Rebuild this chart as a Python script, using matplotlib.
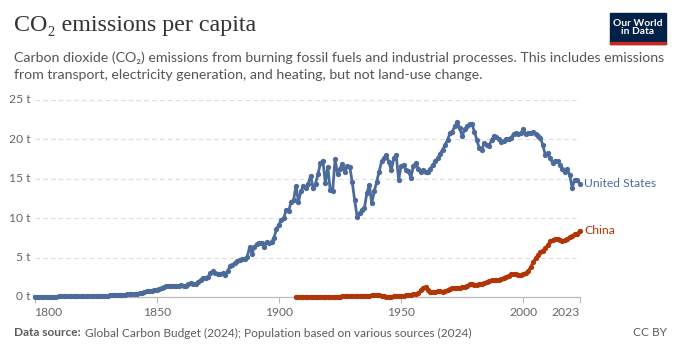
import matplotlib
matplotlib.use("Agg")
import matplotlib.pyplot as plt
from matplotlib.patches import Rectangle

plt.rcParams['font.family'] = ['Lato', 'DejaVu Sans']

us_years = list(range(1800, 2024))
us_values = [
    # 1800-1849
    0.04, 0.04, 0.05, 0.05, 0.05, 0.05, 0.06, 0.06, 0.06, 0.06,
    0.07, 0.07, 0.07, 0.07, 0.07, 0.07, 0.08, 0.08, 0.08, 0.08,
    0.08, 0.09, 0.10, 0.10, 0.11, 0.12, 0.13, 0.14, 0.15, 0.16,
    0.18, 0.20, 0.22, 0.24, 0.25, 0.28, 0.30, 0.31, 0.32, 0.33,
    0.35, 0.38, 0.42, 0.48, 0.55, 0.62, 0.70, 0.78, 0.82, 0.88,
    # 1850-1899
    0.95, 1.05, 1.15, 1.25, 1.38, 1.45, 1.45, 1.42, 1.40, 1.45,
    1.50, 1.42, 1.38, 1.60, 1.72, 1.68, 1.62, 1.95, 2.15, 2.35,
    2.45, 2.55, 3.05, 3.25, 3.00, 2.95, 2.90, 3.00, 2.85, 3.30,
    3.90, 4.05, 4.30, 4.55, 4.75, 4.80, 4.85, 5.10, 6.30, 5.50,
    6.40, 6.70, 6.90, 6.90, 6.30, 7.00, 6.80, 7.00, 7.50, 8.60,
    # 1900-1949
    9.2, 9.8, 10.0, 11.1, 10.9, 12.1, 12.3, 14.1, 12.1, 13.4,
    14.1, 13.8, 14.4, 15.4, 13.8, 14.4, 15.6, 17.0, 17.3, 14.5,
    16.5, 13.6, 13.5, 17.5, 15.6, 16.3, 16.9, 15.9, 16.6, 16.5,
    14.6, 12.3, 10.2, 10.6, 11.1, 11.3, 13.2, 14.2, 11.9, 13.4,
    14.6, 15.9, 17.2, 17.6, 18.0, 17.1, 16.1, 17.6, 18.0, 14.9,
    # 1950-1999
    16.6, 16.8, 16.1, 16.0, 15.1, 16.6, 17.0, 16.3, 15.9, 16.1,
    15.8, 15.9, 16.3, 16.8, 17.2, 17.6, 18.2, 18.7, 19.3, 19.9,
    20.8, 21.0, 21.7, 22.2, 21.4, 20.4, 21.3, 21.7, 22.0, 21.9,
    21.0, 19.9, 18.9, 18.7, 19.5, 19.3, 19.2, 19.9, 20.4, 20.3,
    20.0, 19.7, 19.8, 20.0, 20.1, 20.2, 20.7, 20.8, 20.7, 20.8,
    # 2000-2023
    21.3, 20.7, 20.8, 20.8, 20.9, 20.7, 20.4, 20.2, 19.3, 18.0,
    18.3, 17.6, 17.0, 17.3, 17.2, 16.8, 16.2, 15.9, 16.2, 15.5,
    13.8, 14.9, 14.8, 14.4,
]

china_years = list(range(1907, 2024))
china_values = [
    # 1907-1949
    0.02, 0.02, 0.02, 0.03, 0.03, 0.03, 0.03, 0.04, 0.04, 0.04,
    0.04, 0.04, 0.05, 0.05, 0.05, 0.05, 0.06, 0.06, 0.06, 0.07,
    0.07, 0.07, 0.08, 0.08, 0.08, 0.09, 0.09, 0.10, 0.11, 0.14,
    0.17, 0.20, 0.22, 0.24, 0.22, 0.16, 0.10, 0.06, 0.05, 0.06,
    0.07, 0.09, 0.11,
    # 1950-1999
    0.14, 0.16, 0.20, 0.24, 0.28, 0.32, 0.38, 0.45, 0.85, 1.15,
    1.30, 0.85, 0.68, 0.66, 0.68, 0.75, 0.80, 0.65, 0.70, 0.85,
    1.05, 1.12, 1.15, 1.18, 1.18, 1.30, 1.32, 1.45, 1.60, 1.60,
    1.55, 1.50, 1.60, 1.67, 1.78, 1.92, 2.00, 2.10, 2.20, 2.20,
    2.20, 2.30, 2.40, 2.60, 2.70, 2.90, 2.95, 2.90, 2.80, 2.80,
    # 2000-2023
    2.90, 3.00, 3.30, 3.80, 4.40, 4.90, 5.30, 5.70, 5.90, 6.20,
    6.60, 7.10, 7.20, 7.30, 7.30, 7.20, 7.10, 7.20, 7.40, 7.60,
    7.70, 8.00, 8.00, 8.40,
]

y_ticks = [0, 5, 10, 15, 20, 25]
y_tick_labels = ["0 t", "5 t", "10 t", "15 t", "20 t", "25 t"]
x_ticks = [1800, 1850, 1900, 1950, 2000, 2023]
x_tick_labels = ["1800", "1850", "1900", "1950", "2000", "2023"]
series_names = ["United States", "China"]

US_COLOR = "#4C6A9C"
CN_COLOR = "#B13507"
GRAY = "#666666"

W, H = 679, 355
fig = plt.figure(figsize=(W / 100, H / 100), dpi=100)
ax_l, ax_r, ax_b, ax_t = 34.5, 579.5, 297, 100
ax = fig.add_axes([ax_l / W, 1 - ax_b / H, (ax_r - ax_l) / W, (ax_b - ax_t) / H])

for yrs, vals, col in [(us_years, us_values, US_COLOR), (china_years, china_values, CN_COLOR)]:
    ax.plot(yrs, vals, color=col, lw=2.0, marker='o', ms=3.8, mew=0, zorder=3,
            clip_on=False)

ax.set_xlim(1800, 2023)
ax.set_ylim(0, 25)
for s in ['top', 'right', 'left']:
    ax.spines[s].set_visible(False)
ax.spines['bottom'].set_color('#bbbbbb')
ax.spines['bottom'].set_linewidth(0.9)

ax.set_yticks(y_ticks)
ax.set_yticklabels(y_tick_labels)
ax.set_xticks(x_ticks)
ax.set_xticklabels(x_tick_labels)
ax.tick_params(axis='y', length=0, pad=3, labelsize=8.7, labelcolor=GRAY)
ax.tick_params(axis='x', length=4, width=0.8, color='#bbbbbb', pad=3,
               labelsize=8.7, labelcolor=GRAY)
xl = ax.get_xticklabels()
xl[0].set_horizontalalignment('left')
xl[-1].set_horizontalalignment('right')
for t in ax.get_yticklabels():
    t.set_verticalalignment('center')

for y in y_ticks[1:]:
    ax.axhline(y, color='#dddddd', lw=0.8, ls=(0, (4, 3)), zorder=1)

ax.text(2025, us_values[-1], series_names[0], color=US_COLOR, fontsize=8.7,
        va='center', ha='left', clip_on=False)
ax.text(2025, china_values[-1], series_names[1], color=CN_COLOR, fontsize=8.7,
        va='center', ha='left', clip_on=False)

fig.text(14 / W, 1 - 25 / H, "CO₂ emissions per capita", fontsize=17.3,
         family=['Liberation Serif', 'DejaVu Serif'], color='#333333',
         va='center', ha='left')
fig.text(14 / W, 1 - 58 / H,
         "Carbon dioxide (CO₂) emissions from burning fossil fuels and industrial processes. This includes emissions",
         fontsize=10.2, color='#555555', va='center', ha='left')
fig.text(14 / W, 1 - 75 / H,
         "from transport, electricity generation, and heating, but not land-use change.",
         fontsize=10.2, color='#555555', va='center', ha='left')

# logo
lx0, ly0, lw_, lh_ = 610, 13, 56, 31
fig.patches.append(Rectangle((lx0 / W, 1 - (ly0 + lh_) / H), lw_ / W, lh_ / H,
                             transform=fig.transFigure, color='#002147', zorder=5))
fig.patches.append(Rectangle((lx0 / W, 1 - (ly0 + lh_) / H), lw_ / W, 2.5 / H,
                             transform=fig.transFigure, color='#CE261E', zorder=6))
fig.text((lx0 + lw_ / 2) / W, 1 - (ly0 + 14.5) / H, "Our World\nin Data", color='white',
         fontsize=7.4, ha='center', va='center', linespacing=0.95, zorder=7,
         fontweight='bold')

fig.text(14 / W, 1 - 333 / H, "Data source:", fontsize=8.6, color='#5b5b5b',
         fontweight='bold', va='center', ha='left')
fig.text(85 / W, 1 - 333 / H,
         "Global Carbon Budget (2024); Population based on various sources (2024)",
         fontsize=8.6, color='#5b5b5b', va='center', ha='left')
fig.text(667 / W, 1 - 333 / H, "CC BY", fontsize=8.6, color='#5b5b5b',
         va='center', ha='right')

fig.savefig("out.png", dpi=100)
